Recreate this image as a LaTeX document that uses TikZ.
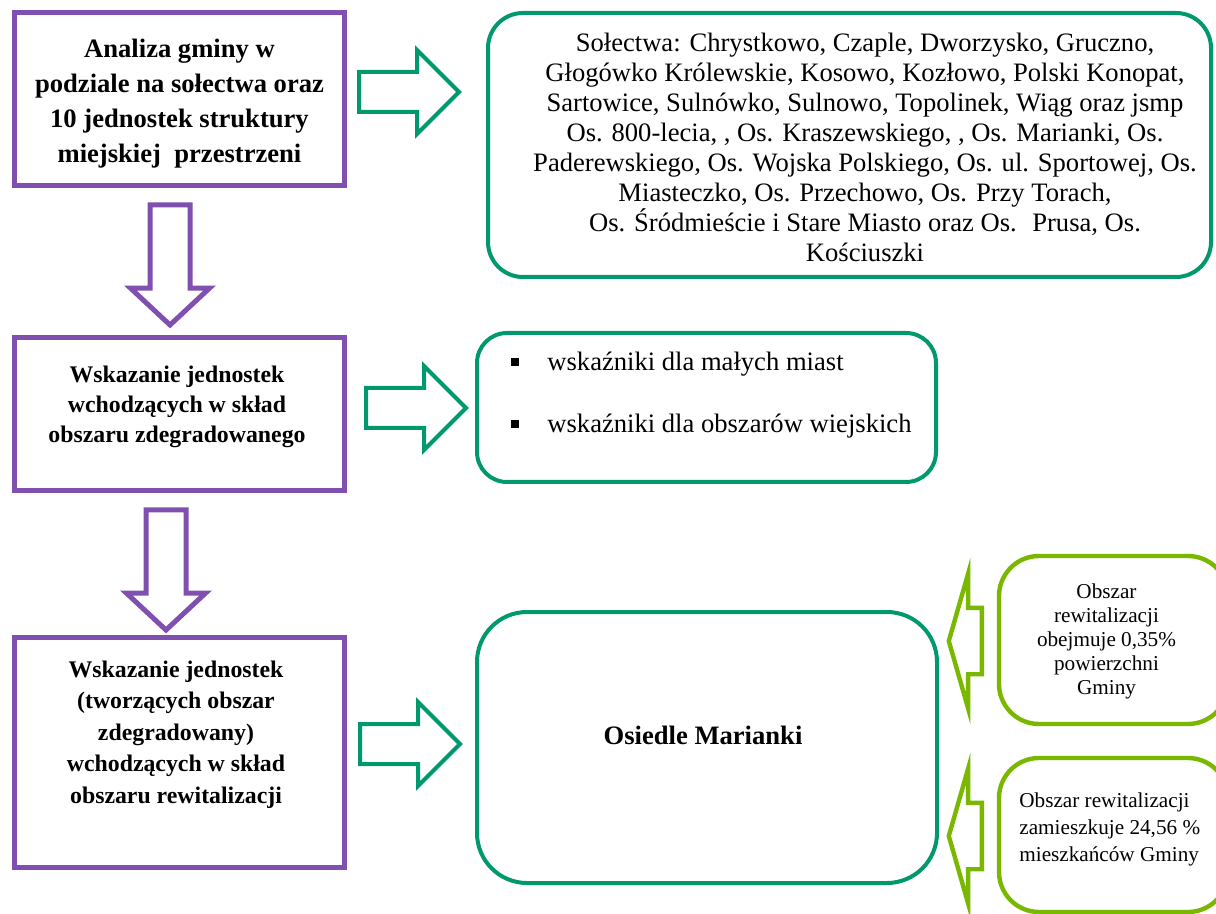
\documentclass[tikz,border=0pt]{standalone}
\usepackage{fontspec}
\setmainfont{Liberation Serif}
\usetikzlibrary{shapes.arrows}

\definecolor{stepviolet}{HTML}{8050B0}
\definecolor{listgreen}{HTML}{00996E}
\definecolor{notelime}{HTML}{7AB800}

\begin{document}
\begin{tikzpicture}[
    x=0.5pt, y=-0.5pt,
    step_style/.style={draw=stepviolet, line width=2.5pt, minimum width=165pt, inner sep=0pt},
    list_style/.style={draw=listgreen, line width=2pt, inner sep=0pt},
    note_style/.style={draw=notelime, line width=2.2pt, rounded corners=20pt, minimum width=114.5pt, inner sep=0pt},
    step_text/.style={align=center, inner sep=0pt, font=\fontsize{11.9}{15}\selectfont\bfseries},
    list_text/.style={inner sep=0pt, font=\fontsize{13.3}{15}\selectfont},
    note_text/.style={inner sep=0pt, font=\fontsize{10.6}{12}\selectfont},
    block_arrow/.style={single arrow, anchor=tail, inner sep=0pt, text height=#1, text depth=0pt},
    arrow_down/.style={block_arrow=17.5pt, draw=stepviolet, line width=2.5pt, minimum height=60pt, minimum width=37pt, single arrow head extend=9.75pt, single arrow tip angle=94, rotate=-90},
    arrow_right/.style={block_arrow=18pt, draw=listgreen, line width=2pt, minimum height=50pt, minimum width=40pt, single arrow head extend=11pt},
    arrow_left/.style={block_arrow=31pt, draw=notelime, line width=2.2pt, minimum height=16.5pt, minimum width=65pt, single arrow head extend=17pt, single arrow tip angle=148, rotate=180}
]
\useasboundingbox (0,0) rectangle (1216,914);

% Left column - steps
\node[step_style, minimum height=86.5pt] (p1) at (179.5,99) {};
\node[step_text, font=\fontsize{13.3}{17.5}\selectfont\bfseries] (p1t) at (179.5,104) {Analiza gminy w\\podziale na sołectwa oraz\\10 jednostek struktury\\miejskiej~ przestrzeni};

\node[step_style, minimum height=76.5pt] (p2) at (179.5,414) {};
\node[step_text] (p2t) at (177,407) {Wskazanie jednostek\\wchodzących w skład\\obszaru zdegradowanego};

\node[step_style, minimum height=115pt] (p3) at (179.5,752.5) {};
\node[step_text, font=\fontsize{11.9}{15.75}\selectfont\bfseries] (p3t) at (176,734.5) {Wskazanie jednostek\\(tworzących obszar\\zdegradowany)\\wchodzących w skład\\obszaru rewitalizacji};

% Arrows between steps
\node[arrow_down] (d1) at (170,202.5) {};
\node[arrow_down] (d2) at (166,507.5) {};

% Middle column - results
\node[list_style, rounded corners=17.5pt, minimum width=361.5pt, minimum height=132pt] (g1) at (849.5,145) {};
\node[list_text, align=center] (g1t) at (865,147) {Sołectwa: Chrystkowo, Czaple, Dworzysko, Gruczno,\\Głogówko Królewskie, Kosowo, Kozłowo, Polski Konopat,\\Sartowice, Sulnówko, Sulnowo, Topolinek, Wiąg oraz jsmp\\Os. 800-lecia, , Os. Kraszewskiego, , Os. Marianki, Os.\\Paderewskiego, Os. Wojska Polskiego, Os. ul. Sportowej, Os.\\Miasteczko, Os. Przechowo, Os. Przy Torach,\\Os. Śródmieście i Stare Miasto oraz Os.~ Prusa, Os.\\Kościuszki};

\node[list_style, rounded corners=15pt, minimum width=229.5pt, minimum height=74.5pt] (g2) at (706.5,407.5) {};
\node[list_text, anchor=base west] (g2a) at (511,371) {\raisebox{2.5pt}{\rule{4pt}{4pt}}\hspace{14pt}wskaźniki dla małych miast};
\node[list_text, anchor=base west] (g2b) at (511,433) {\raisebox{2.5pt}{\rule{4pt}{4pt}}\hspace{14pt}wskaźniki dla obszarów wiejskich};

\node[list_style, rounded corners=25pt, minimum width=230pt, minimum height=135.5pt] (g3) at (707,747.5) {};
\node[list_text, font=\fontsize{13.3}{15}\selectfont\bfseries] (g3t) at (703,735) {Osiedle Marianki};

\node[arrow_right] (r1) at (357,92) {};
\node[arrow_right] (r2) at (364,408) {};
\node[arrow_right] (r3) at (358,744) {};

% Right column - notes
\node[note_style, minimum height=84pt] (n1) at (1113.5,640) {};
\node[note_text, align=center] (n1t) at (1106.5,641) {Obszar\\rewitalizacji\\obejmuje 0,35\%\\powierzchni\\Gminy};

\node[note_style, minimum height=77pt] (n2) at (1113.5,835) {};
\node[note_text, align=left, anchor=north west, font=\fontsize{10.6}{13.5}\selectfont] (n2t) at (1019,792) {Obszar rewitalizacji\\zamieszkuje 24,56 \%\\mieszkańców Gminy};

\node[arrow_left] (l1) at (984,641) {};
\node[arrow_left] (l2) at (984,836) {};

\end{tikzpicture}
\end{document}
